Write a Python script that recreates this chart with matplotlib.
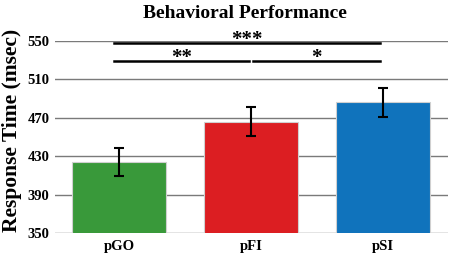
import matplotlib
matplotlib.use("Agg")
import matplotlib.pyplot as plt
import numpy as np

# data
conditions = ['pGO', 'pFI', 'pSI']
rt_mean = [424, 466, 486]
rt_err = [15, 15, 15]
bar_colors = ['#39993a', '#dc1e22', '#1073bc']
yticks = [350, 390, 430, 470, 510, 550]

# significance brackets: (x start, x end, y, label)
sig_pairs = [(-0.04, 1.98, 547.5, '***'),
             (-0.04, 0.985, 529, '**'),
             (1.015, 1.98, 529, '*')]

plt.rcParams['font.family'] = ['Liberation Serif', 'DejaVu Serif']
plt.rcParams['font.weight'] = 'bold'

fig = plt.figure(figsize=(4.52, 2.54), dpi=100)
ax = fig.add_axes([0.1217, 0.0827, 0.869, 0.756])

x = np.arange(len(conditions))
ax.bar(x, rt_mean, width=0.71, color=bar_colors, edgecolor='#d0d0d0',
       linewidth=0.8, zorder=2)
ax.errorbar(x, rt_mean, yerr=rt_err, fmt='none', ecolor='black',
            elinewidth=1.5, capsize=3.5, capthick=1.5, zorder=3)

ax.set_ylim(350, 550)
ax.set_xlim(-0.485, 2.49)
ax.set_yticks(yticks)
ax.set_xticks(x)
ax.set_xticklabels(conditions)
ax.tick_params(axis='both', length=0, labelsize=10.5)
ax.tick_params(axis='y', pad=4)
ax.tick_params(axis='x', pad=5)
ax.yaxis.grid(True, color='#7a7a7a', linewidth=1.0, zorder=0)
ax.set_axisbelow(True)
for s in ax.spines.values():
    s.set_visible(False)

for x0, x1, y, lab in sig_pairs:
    ax.plot([x0, x1], [y, y], color='black', linewidth=1.8, clip_on=False, zorder=4)
    ax.text((x0 + x1) / 2, y - 2, lab, ha='center', va='baseline',
            fontsize=15, fontweight='bold', clip_on=False)

ax.set_ylabel('Response Time (msec)', fontsize=15.5, fontweight='bold')
ax.yaxis.set_label_coords(-0.083, 0.535)
fig.text(0.543, 0.948, 'Behavioral Performance', ha='center', va='center',
         fontsize=14, fontweight='bold')

fig.savefig('out.png', dpi=100)
